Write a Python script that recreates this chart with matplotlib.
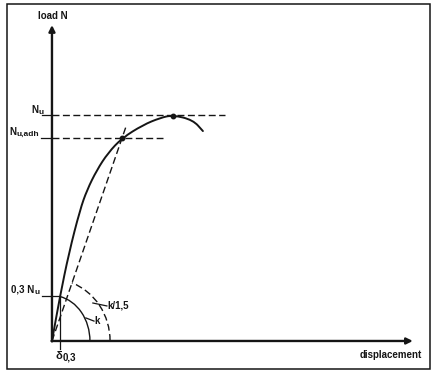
import numpy as np
import matplotlib.pyplot as plt
from matplotlib.patches import Arc, Rectangle, PathPatch
from matplotlib.path import Path

plt.rcParams['font.family'] = ['Liberation Sans', 'DejaVu Sans']

# load-displacement curve (load normalised to Nu = 1, same unit on both axes)
disp = [0, 0.035, 0.075, 0.124, 0.155, 0.199, 0.248, 0.310, 0.403, 0.478,
        0.535, 0.624, 0.668]
load = [0, 0.195, 0.389, 0.580, 0.668, 0.757, 0.832, 0.898, 0.956, 0.987,
        1.0, 0.978, 0.929]

Nu = 1.0
Nu_adh = 0.898
x_adh = 0.310      # where the secant k/1,5 meets the curve
x_peak = 0.535
secant_end = (0.327, 0.947)
N03 = 0.20         # level marked "0,3 Nu"
d03 = 0.035        # delta 0,3
k_arc = (0.168, 0.201)      # half axes of arc k
k15_arc = (0.257, 0.274)    # half axes of arc k/1,5
k15_start = (0.088, 0.257)

ink = '#151515'
fig = plt.figure(figsize=(4.37, 3.76), dpi=100)
ax = fig.add_axes([0, 0, 1, 1])
ax.set_xlim(-0.230, 1.704)
ax.set_ylim(-0.155, 1.509)
ax.axis('off')

# frame
fig.patches.append(Rectangle((7 / 437, 7 / 376), 423 / 437, 365 / 376,
                             transform=fig.transFigure, fill=False,
                             lw=1.1, ec=ink))

# axes with arrows
arr = dict(arrowstyle='-|>', lw=1.7, color=ink, mutation_scale=9,
           shrinkA=0, shrinkB=0)
ax.annotate('', xy=(0, 1.398), xytext=(0, -0.002), arrowprops=arr)
ax.annotate('', xy=(1.597, 0), xytext=(-0.002, 0), arrowprops=arr)

# curve, smoothed with quadratic bezier segments through the read points
pts = np.column_stack([disp, load])
verts = [pts[0], (pts[0] + pts[1]) / 2]
codes = [Path.MOVETO, Path.LINETO]
for i in range(1, len(pts) - 1):
    verts += [pts[i], (pts[i] + pts[i + 1]) / 2]
    codes += [Path.CURVE3, Path.CURVE3]
verts.append(pts[-1])
codes.append(Path.LINETO)
ax.add_patch(PathPatch(Path(verts, codes), fill=False, ec=ink, lw=1.4,
                       capstyle='round'))

# dashed helper lines
dash = dict(color=ink, lw=1.0, dashes=(5, 2.5))
ax.plot([0, 0.765], [Nu, Nu], **dash)
ax.plot([0, 0.491], [Nu_adh, Nu_adh], **dash)
ax.plot([0, secant_end[0]], [0, secant_end[1]], **dash)

# points
ax.plot([x_peak, x_adh], [Nu - 0.004, Nu_adh], 'o', color=ink, ms=3.2)

# arcs
t1 = np.degrees(np.arctan2(N03, d03))
ax.add_patch(Arc((0, 0), 2 * k_arc[0], 2 * k_arc[1], theta1=0, theta2=t1,
                 color=ink, lw=1.0))
t2 = np.degrees(np.arctan2(k15_start[1], k15_start[0]))
ax.add_patch(Arc((0, 0), 2 * k15_arc[0], 2 * k15_arc[1], theta1=0, theta2=t2,
                 color=ink, lw=1.0, linestyle=(0, (5, 2.5))))

# leaders
thin = dict(color=ink, lw=0.9)
ax.plot([-0.045, d03], [N03, N03], **thin)
ax.plot([d03, d03], [N03, -0.035], **thin)
ax.plot([-0.045, 0], [Nu, Nu], **thin)
ax.plot([-0.049, 0], [Nu_adh, Nu_adh], **thin)
ax.plot([0.181, 0.243], [0.168, 0.155], **thin)
ax.plot([0.150, 0.186], [0.102, 0.088], **thin)

# labels
tk = dict(color=ink, fontsize=7, fontweight='bold')


def sub_label(x, y, main, sub, size=7):
    t = ax.text(x, y, main, ha='left', va='center', color=ink,
                fontsize=size, fontweight='bold')
    ax.annotate(sub, xy=(1, 0), xycoords=t, xytext=(0.3, -1.2),
                textcoords='offset points', ha='left', va='bottom',
                color=ink, fontsize=size - 1, fontweight='bold')


ax.text(0.004, 1.438, 'load N', ha='center', va='center', **tk)
ax.text(1.637, -0.062, 'displacement', ha='right', va='center', **tk)
sub_label(-0.092, 1.024, 'N', 'u')
sub_label(-0.190, 0.927, 'N', 'u,adh')
sub_label(-0.183, 0.228, '0,3 N', 'u')
ax.text(0.245, 0.155, 'k/1,5', ha='left', va='center', **tk)
ax.text(0.188, 0.090, 'k', ha='left', va='center', **tk)
sub_label(0.016, -0.066, 'δ', '0,3', size=8)

fig.savefig('out.png', dpi=100, facecolor='white')
